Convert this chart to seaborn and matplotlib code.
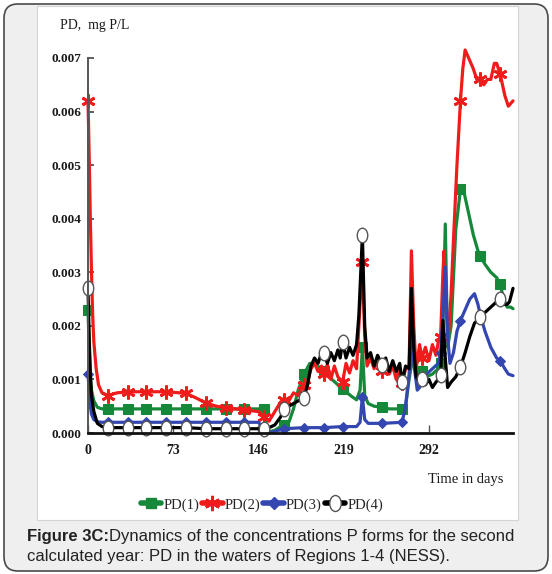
import numpy as np
import pandas as pd
import matplotlib
matplotlib.use("Agg")
import matplotlib.pyplot as plt
import seaborn as sns
from matplotlib.patches import FancyBboxPatch, Rectangle
from matplotlib.path import Path
from matplotlib.transforms import Affine2D
from matplotlib.lines import Line2D

# days where markers sit (one every ~16.8 days)
mark_days = [0, 17, 34, 50, 67, 84, 101, 118, 134, 151, 168, 185, 202, 218,
             235, 252, 269, 286, 302, 319, 336, 353]

# PD(1), region 1
days1 = [0, 1, 2, 3, 5, 8, 12, 17, 34, 50, 67, 84, 101, 118, 134, 146, 151, 153,
         155, 160, 165, 168, 172, 176, 180, 185, 190, 195, 200, 202, 206, 210, 214,
         218, 222, 226, 230, 233, 235, 237, 240, 245, 252, 258, 265, 269, 272, 275,
         278, 281, 286, 290, 295, 300, 302, 304, 306, 308, 311, 315, 319, 322, 326,
         330, 334, 336, 340, 345, 350, 353, 356, 359, 362, 364]
pd1 = [0.0023, 0.0016, 0.0011, 0.0008, 0.0006, 0.00048, 0.00045, 0.00045, 0.00045,
       0.00045, 0.00045, 0.00045, 0.00045, 0.00045, 0.00045, 0.00045, 0.00045, 0.0001,
       0.00002, 0.00005, 0.00012, 0.00015, 0.0002, 0.00045, 0.0008, 0.0011, 0.0013,
       0.00128, 0.0012, 0.00115, 0.00105, 0.00098, 0.0009, 0.00082, 0.00075, 0.00068,
       0.00062, 0.0008, 0.0016, 0.0007, 0.00055, 0.0005, 0.00048, 0.00045, 0.00045,
       0.00045, 0.0005, 0.001, 0.0014, 0.0011, 0.00115, 0.00105, 0.0011, 0.0012,
       0.0013, 0.002, 0.0039, 0.0016, 0.002, 0.0038, 0.00455, 0.0045, 0.0041, 0.0037,
       0.0034, 0.0033, 0.00315, 0.003, 0.0029, 0.00278, 0.0025, 0.00235, 0.00235,
       0.00232]

# PD(2), region 2
days2 = [0, 1, 2, 3, 4, 5, 7, 9, 12, 17, 25, 34, 50, 67, 84, 92, 101, 110, 118, 134,
         146, 151, 155, 160, 165, 168, 172, 176, 180, 185, 188, 191, 194, 197, 200,
         202, 205, 208, 211, 214, 218, 221, 224, 227, 230, 232, 235, 237, 239, 242,
         245, 248, 252, 255, 258, 261, 264, 267, 269, 272, 275, 277, 279, 281, 284,
         286, 289, 292, 295, 298, 300, 302, 304, 305, 307, 309, 311, 313, 316, 319,
         321, 323, 326, 330, 333, 336, 339, 342, 345, 348, 350, 353, 357, 360, 364]
pd2 = [0.0062, 0.0052, 0.004, 0.003, 0.0022, 0.0017, 0.0012, 0.0009, 0.00075,
       0.0007, 0.00075, 0.00077, 0.00077, 0.00077, 0.00074, 0.00066, 0.00056,
       0.0005, 0.00047, 0.00043, 0.0004, 0.0003, 0.00022, 0.0004, 0.00058, 0.00062,
       0.0006, 0.00075, 0.0007, 0.0009, 0.00095, 0.0012, 0.0013, 0.00115, 0.00125,
       0.0011, 0.00128, 0.001, 0.00125, 0.00105, 0.00095, 0.0013, 0.00112, 0.00135,
       0.0012, 0.002, 0.0032, 0.0018, 0.00125, 0.0014, 0.0012, 0.00135, 0.00115,
       0.0013, 0.0011, 0.00125, 0.001, 0.0012, 0.00093, 0.0012, 0.00125, 0.0034,
       0.002, 0.0012, 0.00165, 0.0014, 0.0016, 0.00135, 0.00165, 0.00145, 0.0017,
       0.0018, 0.003, 0.0034, 0.0022, 0.0019, 0.0026, 0.0036, 0.005, 0.0062, 0.0068,
       0.00715, 0.007, 0.0068, 0.0066, 0.0066, 0.0065, 0.0066, 0.0066, 0.0069,
       0.0069, 0.0067, 0.0063, 0.0061, 0.0062]

# PD(3), region 3
days3 = [0, 1, 2, 3, 5, 8, 12, 17, 34, 50, 67, 84, 101, 118, 134, 146, 151, 155,
         160, 168, 185, 202, 218, 230, 233, 235, 237, 240, 252, 269, 272, 275, 277,
         279, 282, 284, 286, 290, 295, 300, 302, 304, 306, 308, 310, 313, 316, 319,
         323, 327, 331, 334, 336, 340, 345, 350, 353, 357, 360, 364]
pd3 = [0.0011, 0.0008, 0.0005, 0.00035, 0.00025, 0.00021, 0.0002, 0.0002, 0.0002,
       0.0002, 0.0002, 0.0002, 0.0002, 0.0002, 0.0002, 0.0002, 0.00005, 0.0,
       0.00003, 0.00008, 0.0001, 0.0001, 0.00012, 0.00012, 0.0002, 0.00068, 0.00025,
       0.00018, 0.00018, 0.0002, 0.0005, 0.0011, 0.0018, 0.0013, 0.0008, 0.00085,
       0.001, 0.0011, 0.0012, 0.0013, 0.0015, 0.0022, 0.0031, 0.0018, 0.0013,
       0.0015, 0.0019, 0.0021, 0.0023, 0.0025, 0.0026, 0.0024, 0.0022, 0.0019,
       0.0016, 0.0014, 0.00135, 0.0012, 0.0011, 0.00107]

# PD(4), region 4
days4 = [0, 1, 2, 3, 5, 8, 12, 17, 34, 50, 67, 84, 101, 118, 134, 146, 151, 155,
         160, 165, 168, 172, 176, 180, 185, 188, 191, 194, 197, 200, 202, 205, 208,
         211, 214, 216, 218, 221, 224, 227, 230, 232, 235, 237, 239, 242, 245, 248,
         252, 255, 258, 261, 264, 267, 269, 272, 275, 277, 279, 281, 284, 286, 289,
         292, 295, 298, 300, 302, 304, 306, 308, 311, 315, 319, 323, 327, 331, 336,
         340, 345, 350, 353, 356, 359, 361, 364]
pd4 = [0.0027, 0.0018, 0.0011, 0.0007, 0.0004, 0.00018, 0.00012, 0.0001, 0.0001,
       0.0001, 0.0001, 0.0001, 0.00008, 0.00008, 0.00008, 0.00008, 0.00008, 0.0001,
       0.00015, 0.0003, 0.00045, 0.0005, 0.00055, 0.0006, 0.00065, 0.0009, 0.00125,
       0.0014, 0.0013, 0.0015, 0.0015, 0.0013, 0.0015, 0.00135, 0.00155, 0.0014,
       0.0017, 0.0014, 0.0016, 0.00145, 0.00165, 0.0022, 0.0037, 0.002, 0.0014,
       0.0015, 0.00125, 0.00145, 0.00127, 0.0014, 0.00115, 0.00135, 0.00115, 0.0013,
       0.00095, 0.00125, 0.0012, 0.0027, 0.0016, 0.00105, 0.00095, 0.001, 0.0009,
       0.001, 0.00085, 0.00095, 0.001, 0.00108, 0.0021, 0.0014, 0.00085, 0.00095,
       0.00105, 0.00123, 0.0015, 0.0018, 0.00205, 0.00216, 0.00225, 0.00235,
       0.00245, 0.0025, 0.0024, 0.0024, 0.00245, 0.0027]

labels = ["PD(1)", "PD(2)", "PD(3)", "PD(4)"]
x_ticks = [0, 73, 146, 219, 292]
y_ticks = [0.000, 0.001, 0.002, 0.003, 0.004, 0.005, 0.006, 0.007]

sns.set_style("ticks")
plt.rcParams["font.family"] = ["Liberation Serif", "DejaVu Serif"]

fig = plt.figure(figsize=(5.52, 5.74), dpi=100)
fig.patch.set_facecolor("white")

# gray rounded frame and white chart panel
frame = FancyBboxPatch((4 / 552, 1 - 571 / 574), 544 / 552, 567 / 574,
                       boxstyle="round,pad=0,rounding_size=0.025",
                       transform=fig.transFigure, facecolor="#efefef",
                       edgecolor="#4a4a4a", lw=1.2, zorder=-3)
fig.add_artist(frame)
panel = Rectangle((37 / 552, 1 - 520 / 574), 481 / 552, 514 / 574,
                  transform=fig.transFigure, facecolor="white",
                  edgecolor="#d4d4d4", lw=0.8, zorder=-2)
fig.add_artist(panel)

ax = fig.add_axes([88 / 552, 1 - 433 / 574, 425 / 552, 375 / 574])
ax.set_facecolor("none")

ellipse = Path.unit_circle().transformed(Affine2D().scale(0.72, 1.0))

styles = [
    dict(color="#16883a", marker="s", ms=6.5, mfc="#16883a", mec="#16883a"),
    dict(color="#f01c1c", marker=(6, 2, 0), ms=10, mfc="#f01c1c", mec="#f01c1c", mew=2),
    dict(color="#3446b0", marker="D", ms=5.5, mfc="#3446b0", mec="#3446b0"),
    dict(color="black", marker=ellipse, ms=10.5, mfc="white", mec="#555555", mew=1.0),
]

handles = []
for d, v, lab, st in zip([days1, days2, days3, days4], [pd1, pd2, pd3, pd4], labels, styles):
    df = pd.DataFrame({"day": d, "val": v})
    idx = np.flatnonzero(np.isin(df["day"].values, mark_days))
    sns.lineplot(data=df, x="day", y="val", ax=ax, lw=2.3, markevery=list(idx),
                 legend=False, clip_on=False, **st)
    handles.append(Line2D([], [], lw=4, color=st["color"], marker=st["marker"],
                          ms=st["ms"] + 1, mfc=st["mfc"], mec=st["mec"],
                          mew=st.get("mew", 1.0)))

ax.set_xlim(0, 364)
ax.set_ylim(0, 0.007)
ax.set_xticks(x_ticks)
ax.set_yticks(y_ticks)
ax.set_yticklabels([f"{t:.3f}" for t in y_ticks])
ax.set_xlabel("")
ax.set_ylabel("")
for lab in ax.get_xticklabels() + ax.get_yticklabels():
    lab.set_fontweight("bold")
ax.tick_params(axis="y", direction="in", length=4, width=1.2, pad=5, labelsize=9.5,
               colors="#444444", labelcolor="#1a1a1a")
ax.tick_params(axis="x", direction="in", length=6, width=1.0, pad=8, labelsize=10,
               colors="#555555", labelcolor="#1a1a1a")
sns.despine(ax=ax)
ax.spines["left"].set_color("#555555")
ax.spines["left"].set_linewidth(1.4)
ax.spines["bottom"].set_color("#111111")
ax.spines["bottom"].set_linewidth(2.0)

fig.text(60 / 552, 1 - 25 / 574, "PD,  mg P/L", fontsize=10, va="center", ha="left",
         color="#1a1a1a")
fig.text(503 / 552, 1 - 479 / 574, "Time in days", fontsize=10.5, va="center", ha="right",
         color="#1a1a1a")

ax.legend(handles, labels, loc="center", bbox_to_anchor=(262 / 552, 1 - 505 / 574),
          bbox_transform=fig.transFigure, ncol=4, frameon=False, handlelength=1.4,
          handletextpad=0.15, columnspacing=0.2, fontsize=10.5)

cap_font = dict(family=["Liberation Sans", "DejaVu Sans"], fontsize=12, color="#222222")
t1 = fig.text(27 / 552, 1 - 537 / 574, "Figure 3C:", fontweight="bold", va="center",
              ha="left", **cap_font)
ax.annotate("Dynamics of the concentrations P forms for the second", xy=(1, 0.5),
            xycoords=t1, va="center", ha="left", annotation_clip=False, **cap_font)
fig.text(27 / 552, 1 - 557 / 574, "calculated year: PD in the waters of Regions 1-4 (NESS).",
         va="center", ha="left", **cap_font)

fig.savefig("out.png", dpi=100)
